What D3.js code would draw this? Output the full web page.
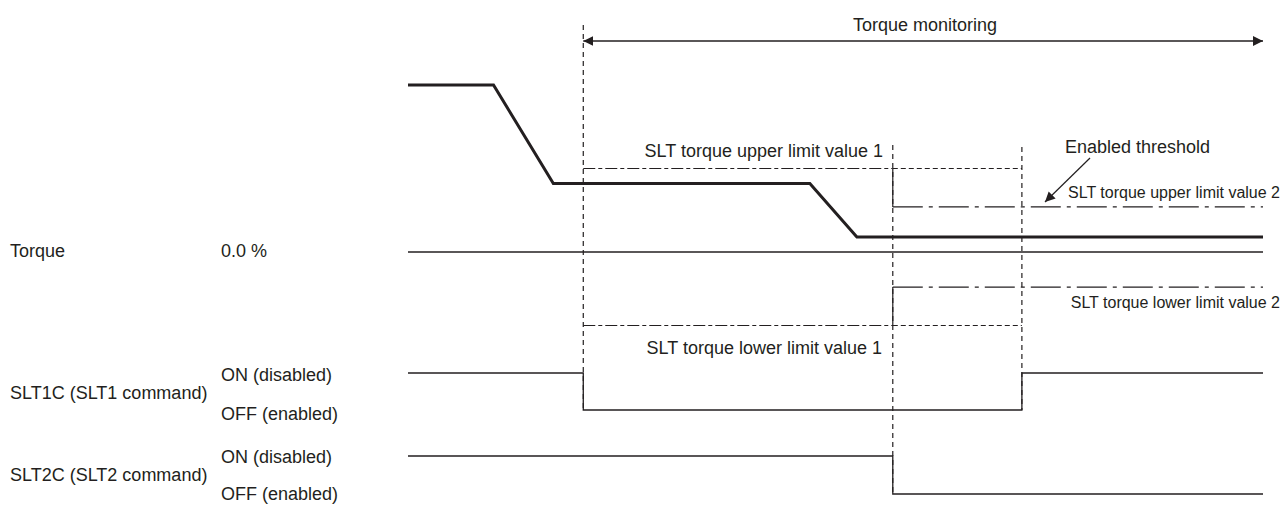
<!DOCTYPE html>
<html><head><meta charset="utf-8">
<script src="https://cdn.jsdelivr.net/npm/d3@7"></script>
<style>
html,body{margin:0;padding:0;background:#fff;}
svg{display:block;font-family:"Liberation Sans",Arial,sans-serif;}
text{fill:#231f20;}
</style></head>
<body>
<svg id="chart" width="1281" height="505"></svg>
<script>
// ---- data ----
const timeMarks = [20.5, 56.7, 71.8];            // SLT1 enabled, SLT2 enabled, SLT1 disabled
const torqueTime = [0, 10, 17, 47, 52.5, 100];
const torqueValue = [100, 100, 41, 41, 9, 9];
const upperLimit1 = 50, lowerLimit1 = -44;
const upperLimit2 = 27, lowerLimit2 = -21;
const slt1Time = [0, 20.5, 20.5, 71.8, 71.8, 100];
const slt1Level = [1, 1, 0, 0, 1, 1];
const slt2Time = [0, 56.7, 56.7, 100];
const slt2Level = [1, 1, 0, 0];
const rowLabels = ["Torque", "SLT1C (SLT1 command)", "SLT2C (SLT2 command)"];
const levelLabels = ["0.0 %", "ON (disabled)", "OFF (enabled)"];

// ---- scales ----
const svg = d3.select("#chart");
const ink = "#231f20";
const x = d3.scaleLinear().domain([0, 100]).range([408, 1263]);
const yT = d3.scaleLinear().domain([0, 100]).range([252, 85]);
const y1 = d3.scaleLinear().domain([0, 1]).range([410, 373]);
const y2 = d3.scaleLinear().domain([0, 1]).range([494, 456]);

const defs = svg.append("defs");
defs.append("marker").attr("id","ah").attr("viewBox","0 0 10 10").attr("refX",10).attr("refY",5)
  .attr("markerWidth",10).attr("markerHeight",12).attr("markerUnits","userSpaceOnUse").attr("orient","auto-start-reverse")
  .append("path").attr("d","M0,0L10,5L0,10Z").attr("fill",ink);

const line = (xs, ys, yScale) => d3.line().x((d,i)=>x(xs[i])).y((d,i)=>yScale(ys[i]))(xs);
const seg = (x1,y1v,x2,y2v) => svg.append("line").attr("x1",x1).attr("y1",y1v).attr("x2",x2).attr("y2",y2v)
  .attr("stroke",ink).attr("fill","none").attr("stroke-width",1.2);

// vertical dashed time markers
const markTop = [25, 145, 147], markBottom = [410, 494, 410];
timeMarks.forEach((t,i)=> seg(x(t), markTop[i], x(t), markBottom[i]).attr("stroke-dasharray","5,4"));

// zero torque line
seg(x(0), yT(0), x(100), yT(0)).attr("stroke-width",1.3);

// limit 1 (active part then fading part)
[upperLimit1, lowerLimit1].forEach(v=>{
  seg(x(timeMarks[0]), yT(v), x(timeMarks[1]), yT(v)).attr("stroke-dasharray","12,3,4,3");
  seg(x(timeMarks[1]), yT(v), x(timeMarks[2]), yT(v)).attr("stroke-dasharray","5,3");
});
// limit 2
[[upperLimit1, upperLimit2],[lowerLimit1, lowerLimit2]].forEach(([a,b])=>{
  seg(x(timeMarks[1]), yT(a), x(timeMarks[1]), yT(b));
  seg(x(timeMarks[1]), yT(b), x(100), yT(b)).attr("stroke-dasharray","30,6,4,6");
});

// torque
svg.append("path").attr("d", line(torqueTime, torqueValue, yT)).attr("fill","none")
  .attr("stroke",ink).attr("stroke-width",3).attr("stroke-linejoin","miter");

// signals
svg.append("path").attr("d", line(slt1Time, slt1Level, y1)).attr("fill","none").attr("stroke",ink).attr("stroke-width",1.3);
svg.append("path").attr("d", line(slt2Time, slt2Level, y2)).attr("fill","none").attr("stroke",ink).attr("stroke-width",1.3);

// monitoring arrow
seg(x(timeMarks[0]), 41, x(100), 41).attr("stroke-width",1.6)
  .attr("marker-start","url(#ah)").attr("marker-end","url(#ah)");
svg.append("text").attr("x",925).attr("y",31).attr("text-anchor","middle").attr("font-size",18).text("Torque monitoring");

// threshold annotations
svg.append("text").attr("x",883).attr("y",157).attr("text-anchor","end").attr("font-size",18).text("SLT torque upper limit value 1");
svg.append("text").attr("x",882).attr("y",354).attr("text-anchor","end").attr("font-size",18).text("SLT torque lower limit value 1");
svg.append("text").attr("x",1065).attr("y",153).attr("font-size",18).text("Enabled threshold");
svg.append("text").attr("x",1280).attr("y",198).attr("text-anchor","end").attr("font-size",16).text("SLT torque upper limit value 2");
svg.append("text").attr("x",1280).attr("y",308).attr("text-anchor","end").attr("font-size",16).text("SLT torque lower limit value 2");
seg(1090,158,1045,202).attr("stroke-width",1.2).attr("marker-end","url(#ah)");

// left labels
const rowY = [257, 399, 481];
rowLabels.forEach((t,i)=> svg.append("text").attr("x",10).attr("y",rowY[i]).attr("font-size",18).text(t));
svg.append("text").attr("x",221).attr("y",257).attr("font-size",18).text(levelLabels[0]);
[[381,420],[463,500]].forEach(([on,off])=>{
  svg.append("text").attr("x",221).attr("y",on).attr("font-size",18).text(levelLabels[1]);
  svg.append("text").attr("x",221).attr("y",off).attr("font-size",18).text(levelLabels[2]);
});
</script>
</body></html>
